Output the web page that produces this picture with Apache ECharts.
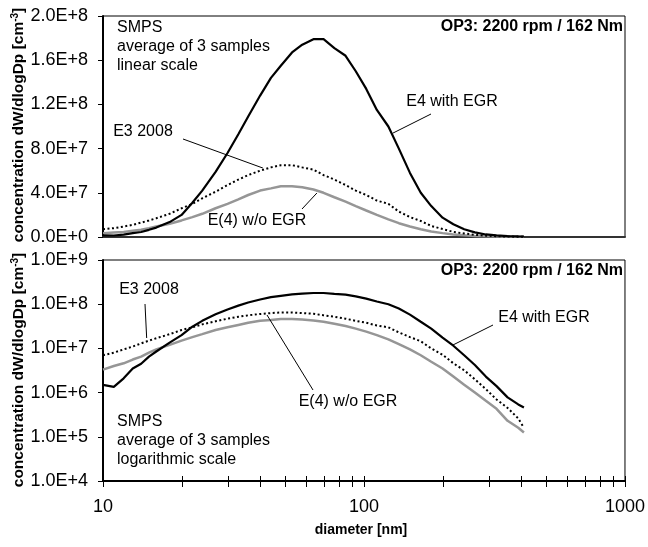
<!DOCTYPE html>
<html><head><meta charset="utf-8">
<script src="https://cdn.jsdelivr.net/npm/echarts@6/dist/echarts.min.js"></script>
<style>html,body{margin:0;padding:0;background:#fff}#c{width:648px;height:547px}</style>
</head><body><div id="c"></div>
<script>
// ---- data (diameter in nm, concentration dW/dlogDp in cm^-3) ----
const diameter = [10,11,12,13,14,15,16,18,20,22,24,27,30,33,36,40,44,48,53,58,64,70,77,85,93,102,112,124,136,150,165,181,200,220,242,266,293,322,355,390,410];
const e4WithEgr = [1.5e6,1.35e6,2.1e6,3.5e6,4.5e6,6.5e6,8.5e6,1.35e7,2.0e7,3.1e7,4.2e7,5.9e7,7.6e7,9.3e7,1.09e8,1.28e8,1.44e8,1.55e8,1.67e8,1.74e8,1.79e8,1.79e8,1.71e8,1.64e8,1.50e8,1.34e8,1.15e8,1.00e8,8.0e7,5.8e7,4.0e7,2.8e7,1.75e7,1.15e7,7.0e6,4.2e6,2.3e6,1.4e6,7.8e5,5.4e5,4.6e5];
const e3_2008 = [7e6,8e6,9.5e6,1.1e7,1.3e7,1.5e7,1.7e7,2.1e7,2.6e7,3.0e7,3.5e7,4.1e7,4.7e7,5.2e7,5.6e7,6.0e7,6.3e7,6.5e7,6.5e7,6.3e7,6.1e7,5.6e7,5.2e7,4.7e7,4.2e7,3.8e7,3.3e7,3.0e7,2.3e7,1.8e7,1.45e7,1.0e7,7.2e6,4.6e6,3.2e6,2.0e6,1.2e6,7.0e5,4.5e5,2.6e5,1.6e5];
const e4WithoutEgr = [3.3e6,4.0e6,4.6e6,5.6e6,6.5e6,8.0e6,9.5e6,1.2e7,1.5e7,1.8e7,2.1e7,2.6e7,3.0e7,3.4e7,3.8e7,4.2e7,4.4e7,4.6e7,4.6e7,4.5e7,4.3e7,4.0e7,3.6e7,3.2e7,2.8e7,2.4e7,2.0e7,1.6e7,1.25e7,9.5e6,7.0e6,5.0e6,3.5e6,2.3e6,1.5e6,1.0e6,6.5e5,4.3e5,2.3e5,1.6e5,1.25e5];
const seriesNames = ['E4 with EGR','E3 2008','E(4) w/o EGR'];
const xTickValues = [10,20,30,40,50,60,70,80,90,100,200,300,400,500,600,700,800,900,1000];
const xLabelValues = [10,100,1000];
const opLabel = 'OP3: 2200 rpm / 162 Nm';
const noteTop = ['SMPS','average of 3 samples','linear scale'];
const noteBottom = ['SMPS','average of 3 samples','logarithmic scale'];

const FONT = "'Liberation Sans', Arial, sans-serif";
const pairs = arr => diameter.map((d, i) => [d, arr[i]]);
const fmt = v => Number(v).toExponential(1).toUpperCase();

const chart = echarts.init(document.getElementById('c'), null, {renderer: 'canvas'});

const styles = [
  {color: '#000', width: 2.2, type: 'solid'},
  {color: '#000', width: 2, type: [2, 2.5]},
  {color: '#969696', width: 2.5, type: 'solid'}
];
const dataSets = [e4WithEgr, e3_2008, e4WithoutEgr];

const series = [];
[0, 1].forEach(g => {
  dataSets.forEach((arr, i) => {
    series.push({
      name: seriesNames[i], type: 'line', xAxisIndex: g, yAxisIndex: g,
      data: pairs(arr), showSymbol: false, symbol: 'none', smooth: false,
      lineStyle: Object.assign({cap: 'butt'}, styles[i]),
      z: 3 - i, silent: true, animation: false
    });
  });
});

const option = {
  animation: false,
  backgroundColor: '#fff',
  textStyle: {fontFamily: FONT},
  grid: [
    {left: 103, top: 16, width: 522, height: 221, show: true, borderColor: '#000', borderWidth: 1},
    {left: 103, top: 260, width: 522, height: 221, show: true, borderColor: '#000', borderWidth: 1}
  ],
  xAxis: [
    {gridIndex: 0, type: 'log', logBase: 10, min: 10, max: 1000,
     axisLine: {lineStyle: {color: '#333', width: 2}}, axisTick: {show: false},
     axisLabel: {show: false}, splitLine: {show: false}},
    {gridIndex: 1, type: 'log', logBase: 10, min: 10, max: 1000,
     axisLine: {lineStyle: {color: '#000', width: 2}},
     axisTick: {show: false},
     axisLabel: {show: true, color: '#000', fontSize: 18, fontFamily: FONT, margin: 17,
                 formatter: v => String(Math.round(v))},
     splitLine: {show: false}}
  ],
  yAxis: [
    {gridIndex: 0, type: 'value', min: 0, max: 2e8, interval: 4e7,
     axisLine: {show: true, lineStyle: {color: '#000', width: 2}},
     axisTick: {show: true, inside: false, length: 5, lineStyle: {color: '#000', width: 1}},
     axisLabel: {color: '#000', fontSize: 18, fontFamily: FONT, margin: 15, formatter: fmt},
     splitLine: {show: false}},
    {gridIndex: 1, type: 'log', logBase: 10, min: 1e4, max: 1e9,
     axisLine: {show: true, lineStyle: {color: '#000', width: 2}},
     axisTick: {show: true, inside: false, length: 5, lineStyle: {color: '#000', width: 1}},
     axisLabel: {color: '#000', fontSize: 18, fontFamily: FONT, margin: 15, formatter: fmt},
     splitLine: {show: false}}
  ],
  series: series
};
chart.setOption(option);

// ---- annotations & cross tick marks ----
const P = (g, pt) => chart.convertToPixel({xAxisIndex: g, yAxisIndex: g}, pt);
const graphics = [];

// x-axis cross ticks on the lower panel, placed through the axis scale
const axisY = chart.convertToPixel({yAxisIndex: 1}, 1e4);
xTickValues.forEach(v => {
  const px = Math.round(chart.convertToPixel({xAxisIndex: 1}, v)) + 0.5;
  graphics.push({type: 'line', shape: {x1: px, y1: axisY - 5, x2: px, y2: axisY + 6},
    style: {stroke: '#000', lineWidth: 1}, z: 40, silent: true});
});

const notes = [
  {g: 0, text: seriesNames[0], tx: 452, ty: 102, sx: 431, sy: 114, end: [129, 9.4e7]},
  {g: 0, text: seriesNames[1], tx: 143, ty: 132, sx: 183, sy: 139, end: [41, 6.24e7]},
  {g: 0, text: seriesNames[2], tx: 257, ty: 221, sx: 302, sy: 209, end: [66, 3.98e7]},
  {g: 1, text: seriesNames[1], tx: 149, ty: 290, sx: 145, sy: 304, end: [14.7, 1.72e7]},
  {g: 1, text: seriesNames[0], tx: 544, ty: 318, sx: 493, sy: 325, end: [219, 1.19e7]},
  {g: 1, text: seriesNames[2], tx: 348, ty: 402, sx: 313, sy: 390, end: [42.5, 5.7e7]}
];
notes.forEach(n => {
  const e = P(n.g, n.end);
  graphics.push({type: 'line', shape: {x1: n.sx, y1: n.sy, x2: e[0], y2: e[1]},
    style: {stroke: '#000', lineWidth: 1}, z: 50, silent: true});
  graphics.push({type: 'text', x: n.tx, y: n.ty, z: 60, silent: true,
    style: {text: n.text, fill: '#000', font: '16px ' + FONT, align: 'center', verticalAlign: 'middle'}});
});
[[noteTop, 117, 18], [noteBottom, 117, 412]].forEach(([lines, x, y]) => {
  graphics.push({type: 'text', x: x, y: y, z: 60, silent: true,
    style: {text: lines.join('\n'), fill: '#000', font: '16px ' + FONT, lineHeight: 19, align: 'left', verticalAlign: 'top'}});
});
[27, 271].forEach(y => {
  graphics.push({type: 'text', x: 623, y: y, z: 60, silent: true,
    style: {text: opLabel, fill: '#000', font: 'bold 16px ' + FONT, align: 'right', verticalAlign: 'middle'}});
});
[125, 370].forEach(y => {
  graphics.push({type: 'text', x: 19, y: y, rotation: Math.PI / 2, z: 60, silent: true,
    style: {text: '{b|concentration dW/dlogDp [cm}{s|-3}{b|]}', align: 'center', verticalAlign: 'middle',
      rich: {b: {fontFamily: FONT, fontSize: 15.5, fontWeight: 'bold', fill: '#000', lineHeight: 17},
             s: {fontFamily: FONT, fontSize: 10, fontWeight: 'bold', fill: '#000', verticalAlign: 'top', lineHeight: 10}}}});
});
graphics.push({type: 'text', x: 361, y: 530, z: 60, silent: true,
  style: {text: 'diameter [nm]', fill: '#000', font: 'bold 14px ' + FONT, align: 'center', verticalAlign: 'middle'}});
chart.setOption({graphic: graphics});
</script></body></html>
